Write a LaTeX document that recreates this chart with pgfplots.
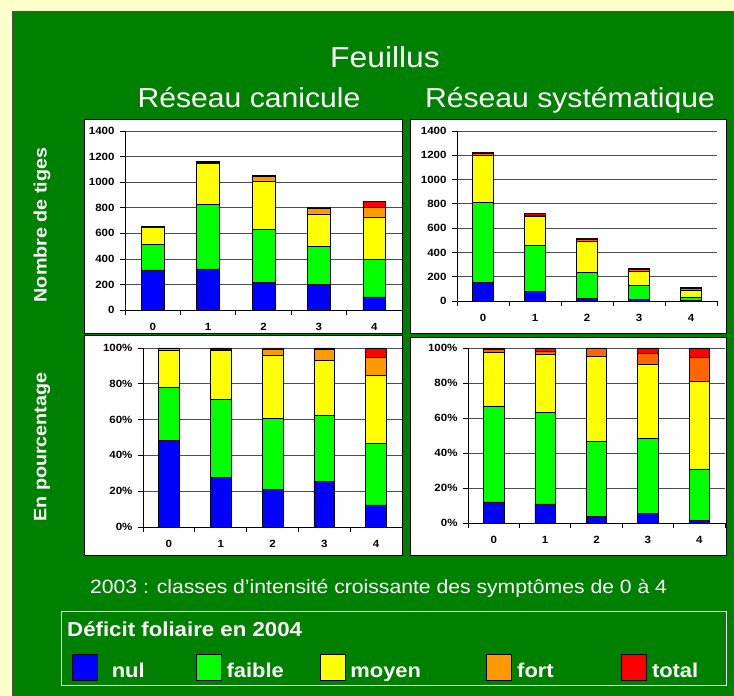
\documentclass[border=0pt]{standalone}
\usepackage{pgfplots}
\pgfplotsset{compat=1.18}
\usepackage{pgfplotstable}
\usepackage{fontspec}
\setmainfont{Liberation Sans}[FakeStretch=1.1]

\definecolor{bgyellow}{RGB}{255,255,204}
\definecolor{bggreen}{RGB}{0,128,0}
\definecolor{cnul}{RGB}{0,0,255}
\definecolor{cfaible}{RGB}{0,255,0}
\definecolor{cmoyen}{RGB}{255,255,0}
\definecolor{cfort}{RGB}{255,153,0}
\definecolor{cfortb}{RGB}{255,102,0}
\definecolor{ctotal}{RGB}{255,0,0}

% counts, reseau canicule
\pgfplotstableread{
cl nul faible moyen fort total
0 313 201 130 10 2
1 321 505 321 6 12
2 216 415 378 36 8
3 200 298 253 48 6
4 102 292 328 80 50
}\TL
% counts, reseau systematique
\pgfplotstableread{
cl nul faible moyen fort total
0 150 662 390 17 5
1 80 377 240 11 14
2 20 218 250 23 2
3 16 114 114 15 10
4 2 32 55 15 6
}\TR
% percent, reseau canicule
\pgfplotstableread{
cl nul faible moyen fort total
0 48.6 29.6 20.3 1.3 0.2
1 27.7 43.6 27.6 0.4 0.7
2 20.9 39.6 35.2 3.8 0.5
3 25.3 37.1 30.7 6.3 0.6
4 12.3 34.4 38.2 9.9 5.2
}\BL
% percent, reseau systematique
\pgfplotstableread{
cl nul faible moyen fort total
0 12.0 54.9 30.8 1.8 0.5
1 10.9 52.5 33.2 1.7 1.7
2 3.6 43.1 48.3 4.6 0.4
3 5.7 42.7 42.3 6.1 3.2
4 1.7 29.2 49.9 13.9 5.3
}\BR

\pgfplotsset{
  myleg/.style={legend image code/.code={\draw[##1,draw=black,line width=0.8bp] (0bp,-8.5bp) rectangle (25bp,17.5bp);}},
  panel/.style={
    scale only axis,
    anchor=south west,
    ybar stacked,
    bar width=0.41,
    xmin=-0.5, xmax=4.5,
    ymin=0,
    xtick={0,1,2,3,4},
    minor xtick={-0.5,0.5,1.5,2.5,3.5,4.5},
    axis x line=bottom, axis y line=left,
    axis line style={-, black, line width=0.8bp},
    tick align=outside,
    major tick length=5bp, minor tick length=5bp,
    tick style={black, line width=0.7bp},
    major x tick style={draw=none},
    ymajorgrids,
    grid style={black!70, line width=0.7bp},
    ticklabel style={font=\fontsize{10.5}{12}\selectfont\bfseries, text=black},
    xticklabel style={yshift=-5bp},
    yticklabel style={xshift=-2bp},
    /pgf/number format/assume math mode=true,
    /pgf/number format/1000 sep={},
  },
  bars/.style={draw=black, line width=0.6bp},
}

\begin{document}
\begin{tikzpicture}[x=1bp,y=1bp]
\useasboundingbox (0,0) rectangle (734,696);
\fill[bgyellow] (0,0) rectangle (734,696);
\filldraw[fill=bggreen, draw=black!70, line width=1bp] (12,-2) rectangle (740,684);

\coordinate (pTL) at (125,386);
\coordinate (pTR) at (457,395);
\coordinate (pBL) at (143,169);
\coordinate (pBR) at (468,173);

% titles
\node[anchor=base, text=white, font=\fontsize{29}{34}\selectfont] at (385,628) {Feuillus};
\node[anchor=base, text=white, font=\fontsize{27.5}{33}\selectfont] at (249,588) {Réseau canicule};
\node[anchor=base, text=white, font=\fontsize{27.5}{33}\selectfont] at (570,588) {Réseau systématique};
\node[rotate=90, text=white, font=\fontsize{18}{22}\selectfont\bfseries] at (42,471) {Nombre de tiges};
\node[rotate=90, text=white, font=\fontsize{18}{22}\selectfont\bfseries] at (42,249) {En pourcentage};

% white panels
\filldraw[fill=white, draw=black, line width=1bp] (84,362) rectangle (402,576);
\filldraw[fill=white, draw=black, line width=1bp] (84,140) rectangle (402,360);
\filldraw[fill=white, draw=black, line width=1bp] (410,362) rectangle (726,576);
\filldraw[fill=white, draw=black, line width=1bp] (410,140) rectangle (726,358);

% top-left: counts, reseau canicule (with legend)
\begin{axis}[panel, at={(pTL)}, width=277bp, height=179bp,
  ymax=1400, ytick={0,200,...,1400},
  legend columns=5,
  legend cell align=left,
  legend style={at={(-0.19134,-1.92179)}, anchor=north west, draw=none, fill=none,
    inner sep=0pt, outer sep=0pt,
    nodes={inner sep=0pt, text height=15bp, text depth=4bp, text=white, font=\fontsize{20}{24}\selectfont\bfseries},
    /tikz/every odd column/.style={column sep=5bp},
    /tikz/every even column/.style={column sep=0bp}},
]
\addplot[bars, fill=cnul, myleg] table[x=cl, y=nul] {\TL};
\addplot[bars, fill=cfaible, myleg] table[x=cl, y=faible] {\TL};
\addplot[bars, fill=cmoyen, myleg] table[x=cl, y=moyen] {\TL};
\addplot[bars, fill=cfort, myleg] table[x=cl, y=fort] {\TL};
\addplot[bars, fill=ctotal, myleg] table[x=cl, y=total] {\TL};
\addlegendentry{\makebox[93bp][l]{\hspace{9bp}nul}}
\addlegendentry{\makebox[93bp][l]{faible}}
\addlegendentry{\makebox[136bp][l]{moyen}}
\addlegendentry{\makebox[104bp][l]{fort}}
\addlegendentry{total}
\end{axis}

% top-right: counts, reseau systematique
\begin{axis}[panel, at={(pTR)}, width=260bp, height=170bp,
  ymax=1400, ytick={0,200,...,1400}]
\addplot[bars, fill=cnul] table[x=cl, y=nul] {\TR};
\addplot[bars, fill=cfaible] table[x=cl, y=faible] {\TR};
\addplot[bars, fill=cmoyen] table[x=cl, y=moyen] {\TR};
\addplot[bars, fill=cfortb] table[x=cl, y=fort] {\TR};
\addplot[bars, fill=ctotal] table[x=cl, y=total] {\TR};
\end{axis}

% bottom-left: percent, reseau canicule
\begin{axis}[panel, at={(pBL)}, width=259bp, height=179bp, bar width=0.40,
  ymax=100, ytick={0,20,...,100}, yticklabels={0\%,20\%,40\%,60\%,80\%,100\%}]
\addplot[bars, fill=cnul] table[x=cl, y=nul] {\BL};
\addplot[bars, fill=cfaible] table[x=cl, y=faible] {\BL};
\addplot[bars, fill=cmoyen] table[x=cl, y=moyen] {\BL};
\addplot[bars, fill=cfort] table[x=cl, y=fort] {\BL};
\addplot[bars, fill=ctotal] table[x=cl, y=total] {\BL};
\end{axis}

% bottom-right: percent, reseau systematique
\begin{axis}[panel, at={(pBR)}, width=257bp, height=175bp, bar width=0.40,
  ymax=100, ytick={0,20,...,100}, yticklabels={0\%,20\%,40\%,60\%,80\%,100\%}]
\addplot[bars, fill=cnul] table[x=cl, y=nul] {\BR};
\addplot[bars, fill=cfaible] table[x=cl, y=faible] {\BR};
\addplot[bars, fill=cmoyen] table[x=cl, y=moyen] {\BR};
\addplot[bars, fill=cfortb] table[x=cl, y=fort] {\BR};
\addplot[bars, fill=ctotal] table[x=cl, y=total] {\BR};
\end{axis}

% caption and legend frame
\node[anchor=base west, text=white, inner sep=0pt, font=\fontsize{19.3}{23}\selectfont] at (90,102) {2003 : classes d’intensité croissante des symptômes de 0 à 4};
\draw[white, line width=1bp] (61,10) rectangle (726,84);
\node[anchor=base west, text=white, inner sep=0pt, font=\fontsize{20.3}{24}\selectfont\bfseries] at (67,59) {Déficit foliaire en 2004};
\end{tikzpicture}
\end{document}
